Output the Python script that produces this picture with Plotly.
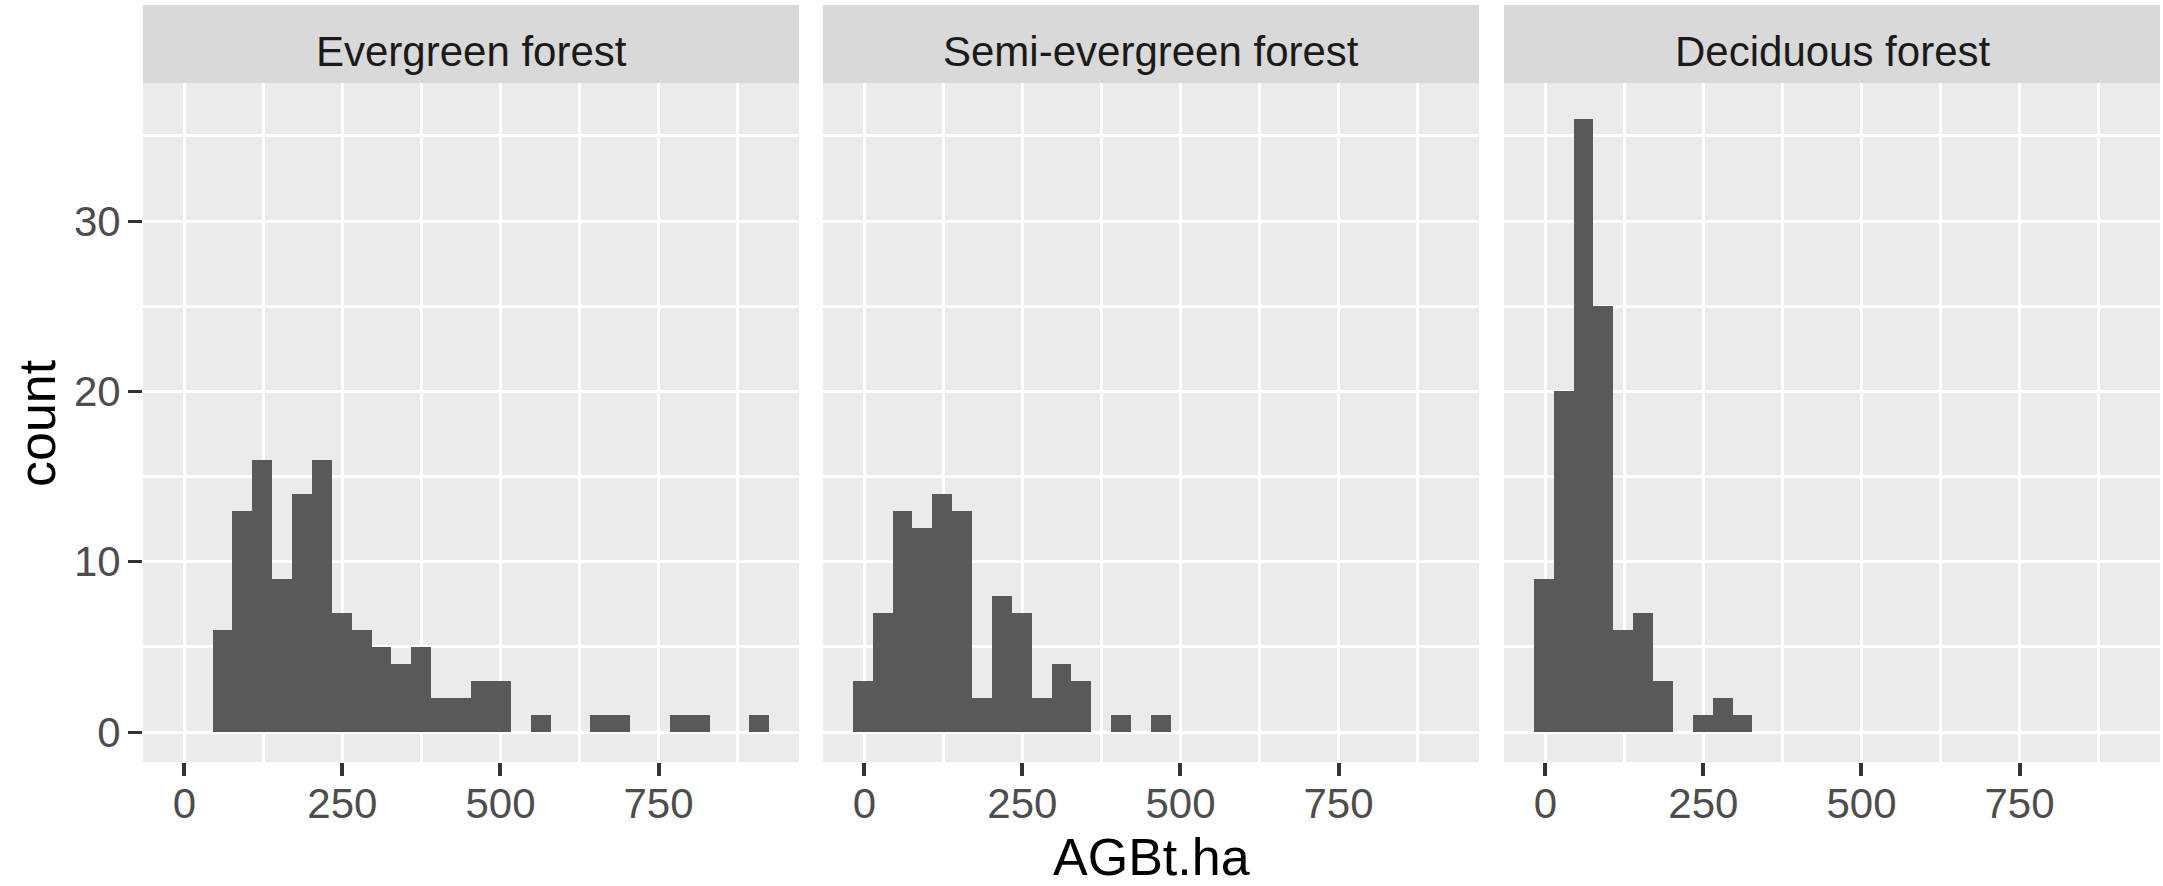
import plotly.graph_objects as go

# ---------------- data ----------------
panel_titles = ["Evergreen forest", "Semi-evergreen forest", "Deciduous forest"]
bin_start = -18.2
bin_width = 31.44
evergreen_counts = [0, 0, 6, 13, 16, 9, 14, 16, 7, 6, 5, 4, 5, 2, 2, 3, 3, 0, 1, 0,
                    0, 1, 1, 0, 0, 1, 1, 0, 0, 1]
semi_evergreen_counts = [3, 7, 13, 12, 14, 13, 2, 8, 7, 2, 4, 3, 0, 1, 0, 1, 0, 0, 0, 0,
                         0, 0, 0, 0, 0, 0, 0, 0, 0, 0]
deciduous_counts = [9, 20, 36, 25, 6, 7, 3, 0, 1, 2, 1, 0, 0, 0, 0, 0, 0, 0, 0, 0,
                    0, 0, 0, 0, 0, 0, 0, 0, 0, 0]
x_tick_vals = [0, 250, 500, 750]
x_tick_text = ["0", "250", "500", "750"]
x_minor_vals = [125, 375, 625, 875]
y_tick_vals = [0, 10, 20, 30]
y_tick_text = ["0", "10", "20", "30"]
y_minor_vals = [5, 15, 25, 35]
x_title = "AGBt.ha"
y_title = "count"

series = [evergreen_counts, semi_evergreen_counts, deciduous_counts]

# ---------------- layout geometry ----------------
W, H = 2163, 886
ML, MR, MT, MB = 143, 3, 5, 124
PW = W - ML - MR
PH = H - MT - MB
panels_px = [(143, 799), (823, 1479), (1504, 2160)]
panel_top_px = 83
panel_bottom_px = 762

def px_to_paper_x(px):
    return (px - ML) / PW

def px_to_paper_y(py):
    return (H - MB - py) / PH

y_dom_top = px_to_paper_y(panel_top_px)

FONT = "Liberation Sans, Arial, sans-serif"
BAR = "#595959"

n_bins = len(evergreen_counts)
lo = bin_start
hi = bin_start + n_bins * bin_width
pad = 0.05 * (hi - lo)
x_range = [lo - pad, hi + pad]
y_range = [-1.75, 38.1]

centers = [bin_start + bin_width * (i + 0.5) for i in range(n_bins)]

fig = go.Figure()
for i, counts in enumerate(series):
    suffix = "" if i == 0 else str(i + 1)
    fig.add_trace(go.Bar(
        x=centers, y=counts, width=bin_width,
        marker=dict(color=BAR, line=dict(width=0)),
        xaxis="x" + suffix, yaxis="y" + suffix,
        showlegend=False, hoverinfo="x+y",
    ))

layout = dict(
    template="none",
    width=W, height=H,
    margin=dict(l=ML, r=MR, t=MT, b=MB, pad=0, autoexpand=False),
    paper_bgcolor="white",
    plot_bgcolor="#EBEBEB",
    bargap=0,
    font=dict(family=FONT),
    showlegend=False,
)

for i, (a, b) in enumerate(panels_px):
    suffix = "" if i == 0 else str(i + 1)
    layout["xaxis" + suffix] = dict(
        domain=[px_to_paper_x(a), px_to_paper_x(b)],
        range=x_range, anchor="y" + suffix, automargin=False,
        tickmode="array", tickvals=x_tick_vals, ticktext=x_tick_text,
        ticks="outside", ticklen=13, tickwidth=3.5, tickcolor="#333333",
        ticklabelstandoff=-8,
        tickfont=dict(family=FONT, size=42, color="#4D4D4D"),
        showgrid=True, gridcolor="white", gridwidth=3.2,
        minor=dict(tickmode="array", tickvals=x_minor_vals, showgrid=True,
                   gridcolor="white", gridwidth=2.8, ticks=""),
        zeroline=False, showline=False, fixedrange=True,
    )
    layout["yaxis" + suffix] = dict(
        domain=[0, y_dom_top],
        range=y_range, anchor="x" + suffix, automargin=False,
        tickmode="array", tickvals=y_tick_vals, ticktext=y_tick_text,
        ticks="outside" if i == 0 else "", ticklen=14, tickwidth=3.2, tickcolor="#333333",
        showticklabels=(i == 0),
        ticklabelstandoff=-1,
        tickfont=dict(family=FONT, size=42, color="#4D4D4D"),
        showgrid=True, gridcolor="white", gridwidth=3.2,
        minor=dict(tickmode="array", tickvals=y_minor_vals, showgrid=True,
                   gridcolor="white", gridwidth=2.8, ticks=""),
        zeroline=False, showline=False, fixedrange=True,
    )

shapes = []
annotations = []
for i, (a, b) in enumerate(panels_px):
    shapes.append(dict(
        type="rect", xref="paper", yref="paper",
        x0=px_to_paper_x(a), x1=px_to_paper_x(b),
        y0=y_dom_top, y1=px_to_paper_y(MT),
        fillcolor="#D9D9D9", line=dict(width=0), layer="below",
    ))
    annotations.append(dict(
        text=panel_titles[i], xref="paper", yref="paper",
        x=px_to_paper_x((a + b) / 2), y=px_to_paper_y(51),
        xanchor="center", yanchor="middle", showarrow=False,
        font=dict(family=FONT, size=42, color="#1A1A1A"),
    ))

annotations.append(dict(
    text=x_title, xref="paper", yref="paper",
    x=px_to_paper_x((panels_px[0][0] + panels_px[2][1]) / 2), y=px_to_paper_y(857),
    xanchor="center", yanchor="middle", showarrow=False,
    font=dict(family=FONT, size=52, color="black"),
))
annotations.append(dict(
    text=y_title, xref="paper", yref="paper",
    x=px_to_paper_x(37), y=px_to_paper_y(423),
    xanchor="center", yanchor="middle", showarrow=False, textangle=-90,
    font=dict(family=FONT, size=52, color="black"),
))

layout["shapes"] = shapes
layout["annotations"] = annotations
fig.update_layout(**layout)

fig.write_html(
    "out.html",
    config={"displayModeBar": False, "responsive": False},
    post_script="document.body.style.margin='0';document.body.style.padding='0';"
                "document.body.style.overflow='hidden';",
)
